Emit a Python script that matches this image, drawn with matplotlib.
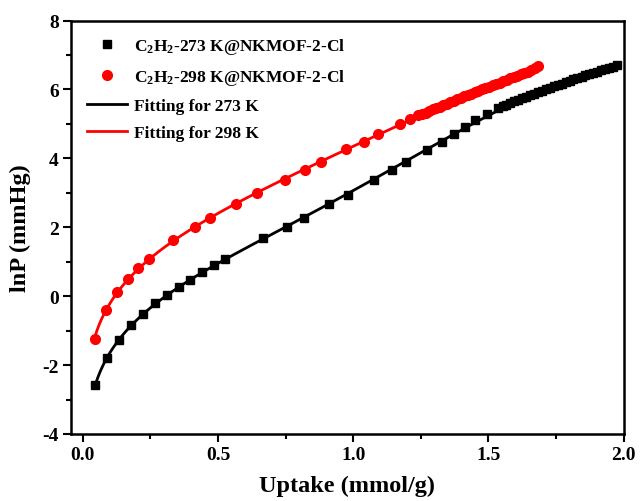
import numpy as np
import matplotlib
matplotlib.use("Agg")
import matplotlib.pyplot as plt
from matplotlib.ticker import MultipleLocator

# C2H2 isotherm data on NKMOF-2-Cl: uptake (mmol/g) vs lnP (mmHg)
uptake_273 = [0.045, 0.091, 0.134, 0.179, 0.224, 0.268, 0.313, 0.356, 0.398,
              0.441, 0.484, 0.525, 0.668, 0.754, 0.818, 0.911, 0.979, 1.077,
              1.143, 1.194, 1.271, 1.328, 1.371, 1.414, 1.451, 1.496, 1.537,
              1.552, 1.566, 1.581, 1.596, 1.610, 1.625, 1.639, 1.654, 1.668,
              1.683, 1.698, 1.712, 1.727, 1.741, 1.756, 1.771, 1.785, 1.800,
              1.814, 1.829, 1.844, 1.858, 1.873, 1.887, 1.902, 1.917, 1.931,
              1.946, 1.960, 1.975]
lnp_273 = [-2.59, -1.79, -1.28, -0.85, -0.51, -0.21, 0.03, 0.27, 0.48,
           0.71, 0.91, 1.08, 1.68, 2.02, 2.26, 2.67, 2.95, 3.37,
           3.65, 3.90, 4.23, 4.49, 4.70, 4.91, 5.10, 5.28, 5.47,
           5.52, 5.56, 5.61, 5.66, 5.70, 5.75, 5.79, 5.83, 5.88,
           5.92, 5.96, 6.01, 6.05, 6.09, 6.13, 6.17, 6.21, 6.25,
           6.29, 6.33, 6.37, 6.41, 6.45, 6.48, 6.52, 6.56, 6.59,
           6.63, 6.66, 6.70]

uptake_298 = [0.044, 0.086, 0.128, 0.169, 0.206, 0.243, 0.335, 0.415, 0.471,
              0.568, 0.643, 0.746, 0.820, 0.880, 0.974, 1.038, 1.093, 1.173,
              1.210, 1.241, 1.255, 1.268, 1.281, 1.294, 1.307, 1.320, 1.333,
              1.346, 1.359, 1.372, 1.385, 1.398, 1.411, 1.424, 1.437, 1.450,
              1.463, 1.476, 1.489, 1.502, 1.515, 1.528, 1.541, 1.554, 1.567,
              1.580, 1.593, 1.606, 1.619, 1.632, 1.645, 1.658, 1.671, 1.685]
lnp_298 = [-1.23, -0.39, 0.12, 0.49, 0.81, 1.07, 1.62, 2.02, 2.28,
           2.69, 3.00, 3.37, 3.65, 3.89, 4.26, 4.48, 4.70, 4.99,
           5.13, 5.25, 5.29, 5.33, 5.38, 5.42, 5.46, 5.50, 5.55,
           5.59, 5.63, 5.67, 5.71, 5.75, 5.80, 5.84, 5.88, 5.92,
           5.96, 6.00, 6.04, 6.08, 6.12, 6.16, 6.20, 6.24, 6.28,
           6.32, 6.36, 6.40, 6.44, 6.48, 6.52, 6.57, 6.62, 6.68]

series_labels = [r"C$_\mathbf{2}$H$_\mathbf{2}$-273 K@NKMOF-2-Cl",
                 r"C$_\mathbf{2}$H$_\mathbf{2}$-298 K@NKMOF-2-Cl",
                 "Fitting for 273 K", "Fitting for 298 K"]

plt.rcParams["font.family"] = ["Liberation Serif", "DejaVu Serif"]
plt.rcParams["font.weight"] = "bold"
plt.rcParams["axes.unicode_minus"] = False
plt.rcParams["mathtext.fontset"] = "custom"
plt.rcParams["mathtext.rm"] = "Liberation Serif:bold"
plt.rcParams["mathtext.bf"] = "Liberation Serif:bold"
plt.rcParams["mathtext.default"] = "bf"


def virial_fit(n, lnp, order=4):
    """Fit lnP = ln N + sum(a_i N^i) and return a smooth curve."""
    n = np.asarray(n)
    lnp = np.asarray(lnp)
    coef = np.polyfit(n, lnp - np.log(n), order)
    grid = np.linspace(n.min(), n.max(), 400)
    return grid, np.log(grid) + np.polyval(coef, grid)


fig = plt.figure(figsize=(6.41, 5.02), dpi=100)
ax = fig.add_axes([0.111, 0.1335, 0.862, 0.8235])

ax.plot(uptake_273, lnp_273, "s", color="black", markersize=5.8,
        label=series_labels[0], zorder=3)
ax.plot(uptake_298, lnp_298, "o", color="red", markersize=7,
        label=series_labels[1], zorder=3)
fx, fy = virial_fit(uptake_273, lnp_273)
ax.plot(fx, fy, "-", color="black", lw=2, label=series_labels[2], zorder=4)
fx, fy = virial_fit(uptake_298, lnp_298)
ax.plot(fx, fy, "-", color="red", lw=2, label=series_labels[3], zorder=4)

ax.set_xlim(-0.043, 2.0)
ax.set_ylim(-4, 8)
ax.xaxis.set_major_locator(MultipleLocator(0.5))
ax.xaxis.set_minor_locator(MultipleLocator(0.25))
ax.yaxis.set_major_locator(MultipleLocator(2))
ax.yaxis.set_minor_locator(MultipleLocator(1))
ax.tick_params(which="major", direction="out", length=6, width=1.5,
               labelsize=14, pad=3)
ax.tick_params(which="minor", direction="out", length=3.5, width=1.5)
for lbl in ax.get_xticklabels() + ax.get_yticklabels():
    lbl.set_fontweight("bold")
for sp in ax.spines.values():
    sp.set_linewidth(1.8)

ax.set_xlabel("Uptake (mmol/g)", fontsize=17.5, fontweight="bold", labelpad=8)
ax.set_ylabel("lnP (mmHg)", fontsize=17.5, fontweight="bold", labelpad=8)

leg = ax.legend(loc="upper left", frameon=False, fontsize=12.5,
                handlelength=2.3, handletextpad=0.4, labelspacing=0.62,
                borderaxespad=0.5, bbox_to_anchor=(0.0, 1.0))

fig.savefig("out.png", dpi=100)
